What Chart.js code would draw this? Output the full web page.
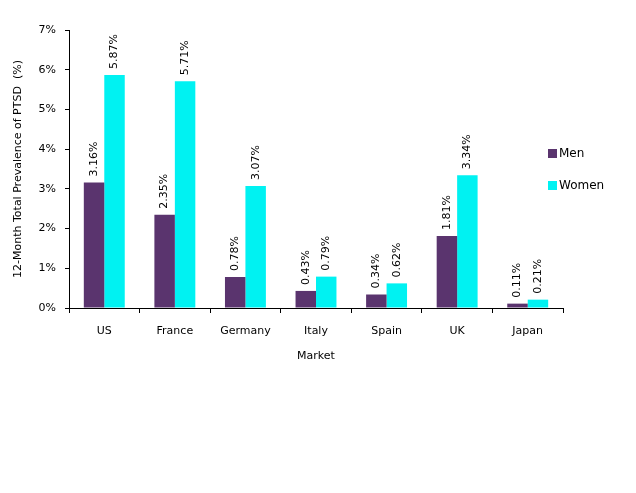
<!DOCTYPE html>
<html>
<head>
<meta charset="utf-8">
<script src="https://cdn.jsdelivr.net/npm/chart.js@4"></script>
<style>
  html, body { margin: 0; padding: 0; background: #fff; }
  #wrap { width: 636px; height: 493px; }
</style>
</head>
<body>
<div id="wrap"><canvas id="chart" width="636" height="493"></canvas></div>
<script>
// Data
const markets = ['US', 'France', 'Germany', 'Italy', 'Spain', 'UK', 'Japan'];
const menValues = [3.16, 2.35, 0.78, 0.43, 0.34, 1.81, 0.11];
const womenValues = [5.87, 5.71, 3.07, 0.79, 0.62, 3.34, 0.21];
const seriesNames = ['Men', 'Women'];
const yTicks = [0, 1, 2, 3, 4, 5, 6, 7];

const menColor = '#5a346e';
const womenColor = '#00f2f2';
const fontFamily = 'Tahoma, "DejaVu Sans", sans-serif';

// Rotated value labels above each bar
const barLabels = {
    id: 'barLabels',
    afterDatasetsDraw(chart) {
        const ctx = chart.ctx;
        ctx.save();
        ctx.font = '11px ' + fontFamily;
        ctx.fillStyle = '#000';
        ctx.textAlign = 'left';
        ctx.textBaseline = 'middle';
        chart.data.datasets.forEach((ds, i) => {
            chart.getDatasetMeta(i).data.forEach((bar, j) => {
                ctx.save();
                ctx.translate(bar.x, bar.y - 6);
                ctx.rotate(-Math.PI / 2);
                ctx.fillText(ds.data[j].toFixed(2) + '%', 0, 0);
                ctx.restore();
            });
        });
        ctx.restore();
    }
};

// Legend on the right, like the original
const sideLegend = {
    id: 'sideLegend',
    afterDraw(chart) {
        const ctx = chart.ctx;
        ctx.save();
        ctx.font = '12px ' + fontFamily;
        ctx.textBaseline = 'middle';
        ctx.textAlign = 'left';
        const colors = [menColor, womenColor];
        seriesNames.forEach((name, i) => {
            const y = 154 + i * 32;
            ctx.fillStyle = colors[i];
            ctx.fillRect(548, y - 5, 9, 9);
            ctx.fillStyle = '#000';
            ctx.fillText(name, 559, y);
        });
        ctx.restore();
    }
};

new Chart(document.getElementById('chart'), {
    type: 'bar',
    data: {
        labels: markets,
        datasets: [
            { label: seriesNames[0], data: menValues, backgroundColor: menColor },
            { label: seriesNames[1], data: womenValues, backgroundColor: womenColor }
        ]
    },
    options: {
        responsive: false,
        animation: false,
        devicePixelRatio: 1,
        layout: { padding: { left: 0, right: 73, top: 30, bottom: 130 } },
        datasets: { bar: { barPercentage: 1.0, categoryPercentage: 0.58 } },
        plugins: {
            legend: { display: false },
            tooltip: { enabled: false }
        },
        scales: {
            x: {
                grid: { display: true, drawOnChartArea: false, offset: true, color: '#000', tickLength: 5 },
                border: { color: '#000', width: 1 },
                ticks: { color: '#000', font: { family: fontFamily, size: 11 }, padding: 12, maxRotation: 0 },
                title: { display: true, text: 'Market', color: '#000', font: { family: fontFamily, size: 11 }, padding: 0 },
                afterFit(scale) { scale.height = 55; }
            },
            y: {
                min: 0,
                max: 7,
                afterBuildTicks(scale) { scale.ticks = yTicks.map(v => ({ value: v })); },
                grid: { display: true, drawOnChartArea: false, color: '#000', tickLength: 4 },
                border: { color: '#000', width: 1 },
                ticks: {
                    color: '#000',
                    font: { family: fontFamily, size: 11 },
                    padding: 9,
                    callback: v => v + '%'
                },
                title: {
                    display: true,
                    text: '12-Month Total Prevalence of PTSD  (%)',
                    color: '#000',
                    font: { family: fontFamily, size: 11 },
                    padding: { top: 12, bottom: 0 }
                },
                afterFit(scale) { scale.width = 69; }
            }
        }
    },
    plugins: [barLabels, sideLegend]
});
</script>
</body>
</html>
